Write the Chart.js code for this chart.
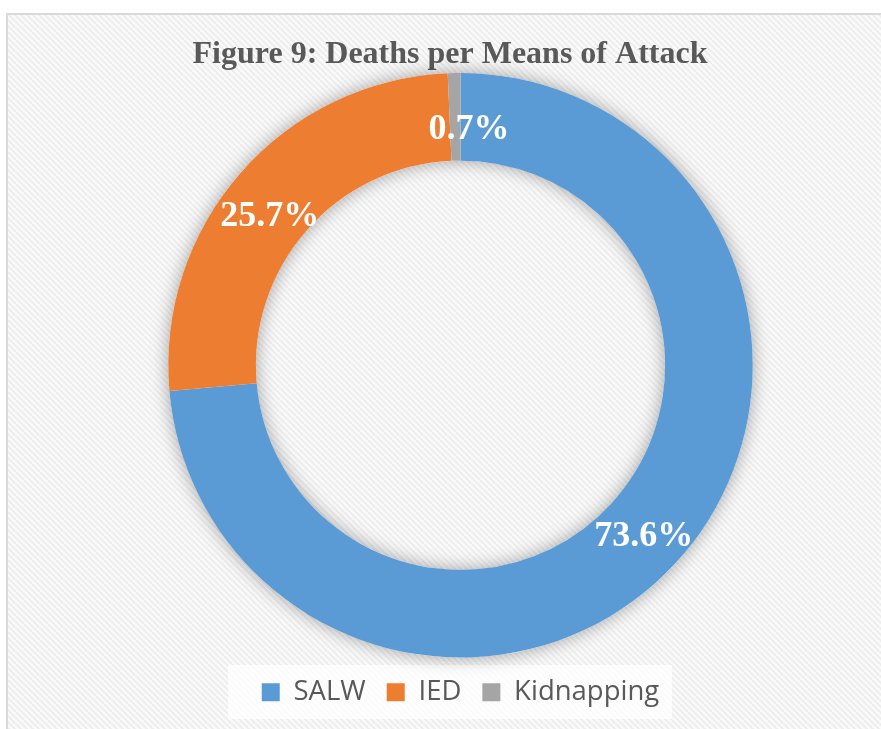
<!DOCTYPE html>
<html>
<head>
<meta charset="utf-8">
<title>Deaths per Means of Attack</title>
<script src="https://cdn.jsdelivr.net/npm/chart.js@4/dist/chart.umd.min.js"></script>
<style>
  html, body { margin: 0; padding: 0; background: #ffffff; overflow: hidden; }
  #wrap { position: relative; width: 881px; height: 729px; }
</style>
</head>
<body>
<div id="wrap"><canvas id="grafico"></canvas></div>
<script>
// Dados do gráfico
const categorias = ['SALW', 'IED', 'Kidnapping'];
const percentuais = [73.6, 25.7, 0.7];
const cores = ['#5b9bd5', '#ed7d31', '#a5a5a5'];
const titulo = 'Figure 9: Deaths per Means of Attack';

// Ajuste fino da posição dos rótulos (px) em relação ao meio do anel
const ajusteRotulos = [[0, 1], [-4, 12], [14, 10]];

// Textura listrada diagonal do fundo
function criarTextura(ctx) {
    const c = document.createElement('canvas');
    c.width = 6; c.height = 6;
    const p = c.getContext('2d');
    p.fillStyle = '#fbfbfb';
    p.fillRect(0, 0, 6, 6);
    p.strokeStyle = '#ededed';
    p.lineWidth = 2;
    p.beginPath();
    p.moveTo(-1, -1); p.lineTo(7, 7);
    p.moveTo(-1, 5); p.lineTo(1, 7);
    p.moveTo(5, -1); p.lineTo(7, 1);
    p.stroke();
    return ctx.createPattern(c, 'repeat');
}

// Fundo, moldura, título e caixa da legenda
const fundo = {
    id: 'fundo',
    beforeDraw(chart) {
        const ctx = chart.ctx;
        ctx.save();
        ctx.fillStyle = '#ffffff';
        ctx.fillRect(0, 0, chart.width, chart.height);
        ctx.fillStyle = criarTextura(ctx);
        ctx.fillRect(7, 14, chart.width, chart.height);
        ctx.strokeStyle = '#d9d9d9';
        ctx.lineWidth = 2;
        ctx.strokeRect(7, 14, chart.width + 10, chart.height + 10);

        ctx.fillStyle = '#595959';
        ctx.font = 'bold 32px "Liberation Serif", "Times New Roman", serif';
        ctx.textAlign = 'center';
        ctx.textBaseline = 'alphabetic';
        ctx.fillText(titulo, 450, 63);

        ctx.fillStyle = 'rgba(255,255,255,0.75)';
        ctx.fillRect(228, 665, 444, 54);
        ctx.restore();
    }
};

// Sombra suave em volta do anel
const sombraAnel = {
    id: 'sombraAnel',
    beforeDatasetsDraw(chart) {
        const arc = chart.getDatasetMeta(0).data[0];
        if (!arc) return;
        const {x, y, outerRadius, innerRadius} = arc.getProps(['x', 'y', 'outerRadius', 'innerRadius'], true);
        const ctx = chart.ctx;
        ctx.save();
        ctx.shadowColor = 'rgba(0,0,0,0.35)';
        ctx.shadowBlur = 18;
        ctx.fillStyle = '#ffffff';
        ctx.beginPath();
        ctx.arc(x, y, outerRadius, 0, Math.PI * 2);
        ctx.arc(x, y, innerRadius, 0, Math.PI * 2, true);
        ctx.fill('evenodd');
        ctx.restore();
    }
};

// Rótulos de porcentagem sobre cada fatia
const rotulos = {
    id: 'rotulos',
    afterDatasetsDraw(chart) {
        const ctx = chart.ctx;
        const meta = chart.getDatasetMeta(0);
        ctx.save();
        ctx.fillStyle = '#ffffff';
        ctx.font = 'bold 36px "Liberation Serif", "Times New Roman", serif';
        ctx.textAlign = 'center';
        ctx.textBaseline = 'alphabetic';
        meta.data.forEach((arc, i) => {
            const p = arc.getProps(['x', 'y', 'startAngle', 'endAngle', 'innerRadius', 'outerRadius'], true);
            const meio = (p.startAngle + p.endAngle) / 2;
            const r = (p.innerRadius + p.outerRadius) / 2;
            const [dx, dy] = ajusteRotulos[i];
            const tx = p.x + Math.cos(meio) * r + dx;
            const ty = p.y + Math.sin(meio) * r + dy;
            ctx.fillText(percentuais[i].toFixed(1) + '%', tx, ty + 12);
        });
        ctx.restore();
    }
};

new Chart(document.getElementById('grafico'), {
    type: 'doughnut',
    data: {
        labels: categorias,
        datasets: [{
            data: percentuais,
            backgroundColor: cores,
            borderWidth: 0
        }]
    },
    options: {
        responsive: true,
        maintainAspectRatio: false,
        animation: false,
        cutout: '70%',
        layout: { padding: { top: 73, left: 40, right: 0, bottom: 13 } },
        plugins: {
            tooltip: { enabled: false },
            title: { display: false },
            legend: {
                position: 'bottom',
                labels: {
                    boxWidth: 18,
                    boxHeight: 18,
                    padding: 21,
                    color: '#595959',
                    font: { family: '"Open Sans", sans-serif', size: 27.5 }
                }
            }
        }
    },
    plugins: [fundo, sombraAnel, rotulos]
});
</script>
</body>
</html>
